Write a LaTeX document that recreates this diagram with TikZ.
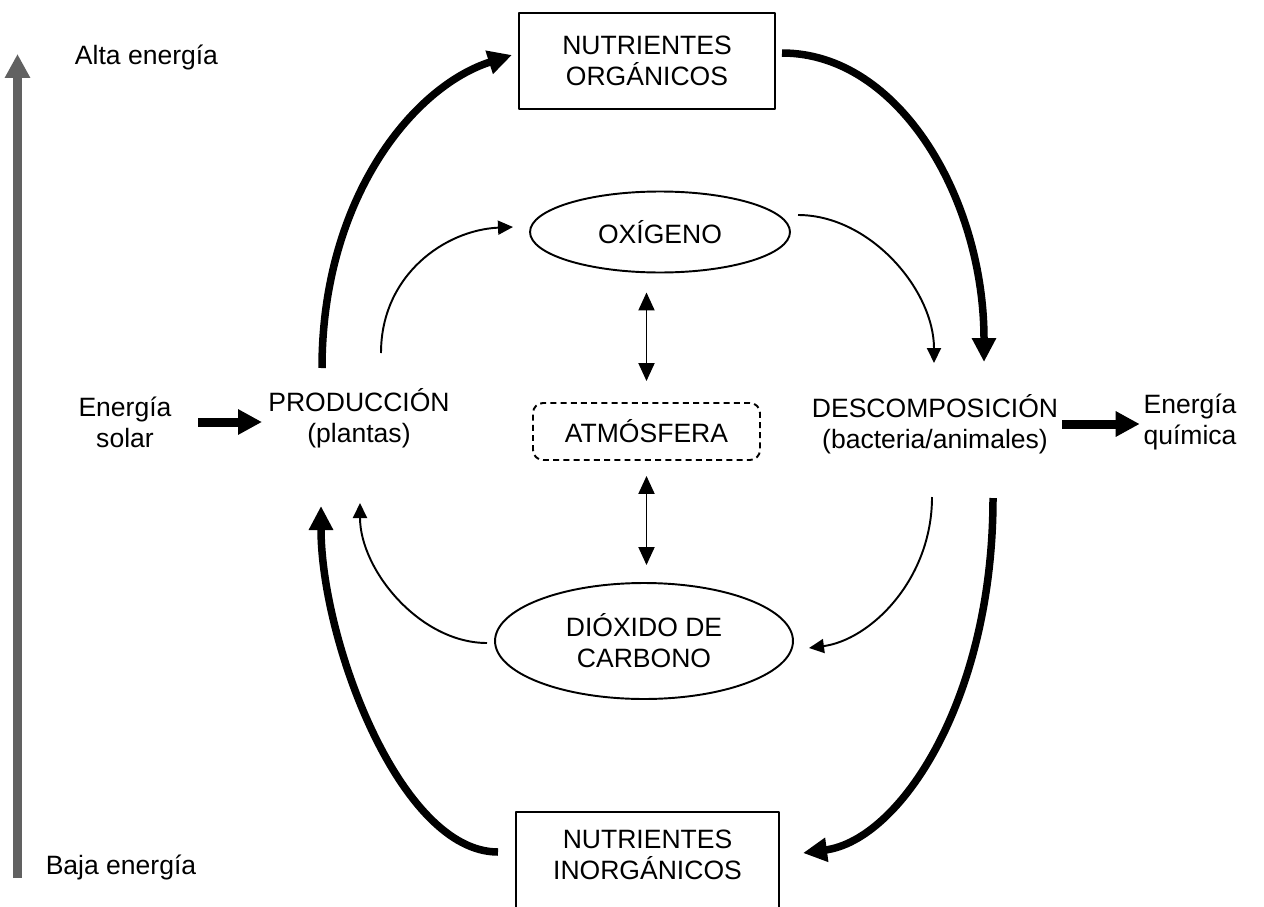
\documentclass[tikz,border=0pt]{standalone}
\usepackage{fontspec}
\setmainfont{Liberation Sans}
\usetikzlibrary{arrows.meta,shapes.geometric}
\begin{document}
\begin{tikzpicture}[x=0.02cm, y=-0.02cm, font=\fontsize{15.1pt}{17.6pt}\selectfont, line join=round,
	txt/.style={align=center, inner sep=0pt},
	caja/.style={draw, line width=1.1pt, align=center, inner sep=0pt, minimum width=5.12cm, minimum height=1.92cm},
	elipse/.style={ellipse, draw, line width=1.1pt, align=center, inner sep=0pt},
	gruesa/.style={line width=0.15cm, -{Triangle[length=0.48cm,width=0.46cm]}},
	fina/.style={line width=1.1pt, -{Triangle[length=0.3cm,width=0.28cm]}},
	doble/.style={line width=1.1pt, {Triangle[length=0.36cm,width=0.32cm]}-{Triangle[length=0.36cm,width=0.32cm]}},
	flecha/.style={line width=0.18cm, -{Triangle[length=0.48cm,width=0.48cm]}}]
	\def\gris{black!62}
	\useasboundingbox (0,0) rectangle (1264,906);
	% escala de energia
	\coordinate (bajo) at (17.5,878);
	\coordinate (alto) at (17.5,54);
	\draw[flecha, \gris] (bajo) -- (alto);
	\node[txt] (alta) at (146.5,57) {Alta energía};
	\node[txt] (baja) at (121,867) {Baja energía};
	% nodos
	\node[caja] (org) at (647,61) {NUTRIENTES\\ORGÁNICOS};
	\node[txt] (inorg) at (647.5,855) {NUTRIENTES\\INORGÁNICOS};
	\draw[line width=1.1pt] (516,930) |- (779,812) -- (779,930);
	\node[elipse, minimum width=5.2cm, minimum height=1.62cm] (oxi) at (660,232) {OXÍGENO};
	\node[elipse, minimum width=5.96cm, minimum height=2.32cm] (co2) at (644,641) {DIÓXIDO DE\\CARBONO};
	\node[draw, dash pattern=on 3.4pt off 2.4pt, line width=1.1pt, rounded corners=0.2cm, inner sep=0pt,
		minimum width=4.54cm, minimum height=1.14cm] (atm) at (646.5,431.5) {ATMÓSFERA};
	\node[txt] (prod) at (359,418) {PRODUCCIÓN\\(plantas)};
	\node[txt] (desc) at (935,424) {DESCOMPOSICIÓN\\(bacteria/animales)};
	\node[txt] (solar) at (125,422) {Energía\\solar};
	\node[txt] (quim) at (1190,422) {Energía\\química};
	% entrada y salida de energia
	\draw[flecha, shorten <=0.53cm, shorten >=0.12cm] (solar.east) -- (solar.east -| prod.west);
	\draw[flecha, shorten <=0.08cm, shorten >=0.07cm] (desc.east) -- (desc.east -| quim.west);
	% intercambio con la atmosfera
	\draw[doble, shorten <=0.42cm, shorten >=0.38cm] (atm.north) -- (atm.north |- oxi.south);
	\draw[doble, shorten <=0.3cm, shorten >=0.34cm] (atm.south) -- (atm.south |- co2.north);
	% extremos de los ciclos
	\coordinate (p1) at (322,368);  \coordinate (o1) at (512,55);
	\coordinate (p2) at (381,353);  \coordinate (x1) at (513,227);
	\coordinate (o2) at (782,53);   \coordinate (d1) at (984,362);
	\coordinate (x2) at (798,215);  \coordinate (d2) at (934,363);
	\coordinate (d3) at (993,498);  \coordinate (i1) at (803,853);
	\coordinate (d4) at (932,497);  \coordinate (c1) at (809,648);
	\coordinate (i2) at (498,852);  \coordinate (p3) at (321,506);
	\coordinate (c2) at (487,643);  \coordinate (p4) at (360,503);
	% ciclo de nutrientes
	\draw[gruesa] (p1) .. controls (322,200) and (412,87) .. (o1);
	\draw[gruesa] (o2) .. controls (900,53) and (984,200) .. (d1);
	\draw[gruesa] (d3) .. controls (993,700) and (900,840) .. (i1);
	\draw[gruesa] (i2) .. controls (400,852) and (321,640) .. (p3);
	% ciclo de gases
	\draw[fina] (p2) .. controls (381,275) and (445,230) .. (x1);
	\draw[fina] (x2) .. controls (870,215) and (934,290) .. (d2);
	\draw[fina] (d4) .. controls (932,580) and (870,640) .. (c1);
	\draw[fina] (c2) .. controls (420,643) and (360,570) .. (p4);
\end{tikzpicture}
\end{document}
